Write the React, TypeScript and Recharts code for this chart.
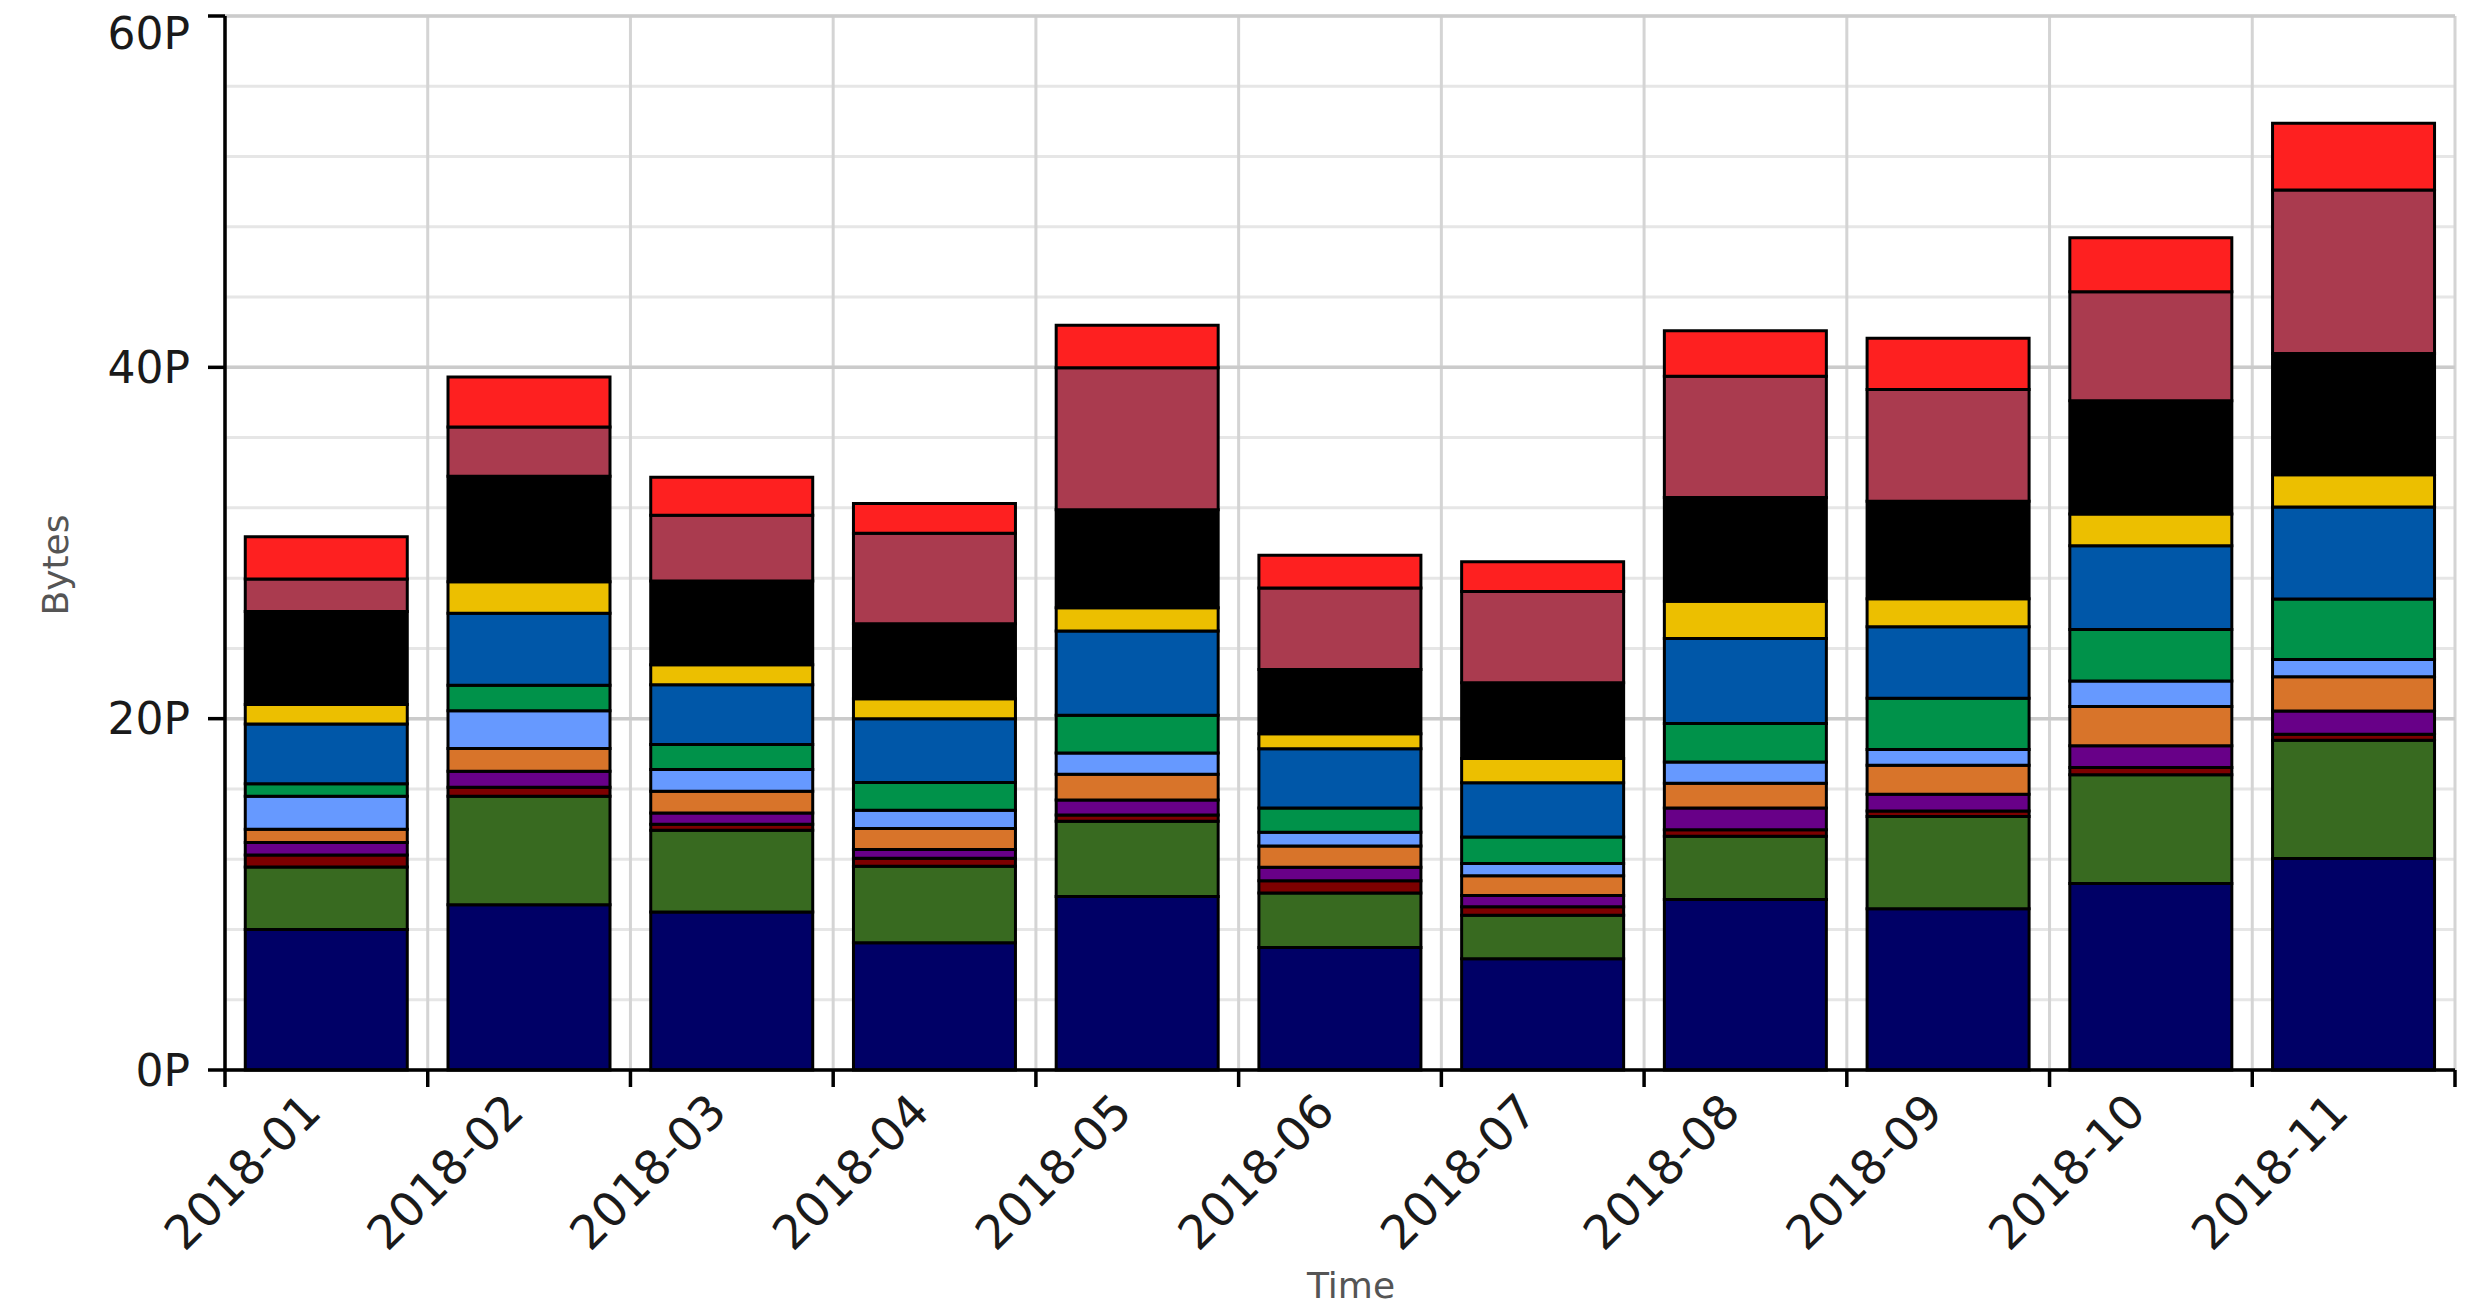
import { Bar, BarChart, CartesianGrid, Label, XAxis, YAxis } from "recharts";

// monthly storage usage, values in PB, stacked bottom -> top
const months = [
  "2018-01", "2018-02", "2018-03", "2018-04", "2018-05", "2018-06",
  "2018-07", "2018-08", "2018-09", "2018-10", "2018-11",
];

const navy = [8.0, 9.4, 9.0, 7.24, 9.88, 6.98, 6.33, 9.71, 9.18, 10.61, 12.04];
const darkGreen = [3.55, 6.18, 4.65, 4.36, 4.28, 3.1, 2.48, 3.6, 5.25, 6.2, 6.73];
const darkRed = [0.69, 0.52, 0.34, 0.45, 0.36, 0.7, 0.48, 0.37, 0.31, 0.41, 0.35];
const purple = [0.71, 0.9, 0.64, 0.5, 0.85, 0.76, 0.65, 1.24, 0.96, 1.24, 1.31];
const orange = [0.75, 1.3, 1.24, 1.2, 1.46, 1.21, 1.12, 1.4, 1.65, 2.23, 1.95];
const lightBlue = [1.88, 2.15, 1.23, 1.03, 1.21, 0.79, 0.7, 1.21, 0.89, 1.46, 0.99];
const green = [0.72, 1.45, 1.43, 1.58, 2.16, 1.38, 1.5, 2.2, 2.92, 2.92, 3.44];
const blue = [3.4, 4.1, 3.4, 3.64, 4.79, 3.37, 3.09, 4.84, 4.07, 4.77, 5.24];
const yellow = [1.1, 1.8, 1.14, 1.13, 1.33, 0.85, 1.38, 2.11, 1.59, 1.81, 1.84];
const black = [5.3, 6.0, 4.77, 4.27, 5.57, 3.66, 4.31, 5.91, 5.56, 6.45, 6.9];
const rose = [1.85, 2.8, 3.74, 5.15, 8.08, 4.64, 5.2, 6.9, 6.36, 6.2, 9.31];
const red = [2.4, 2.85, 2.16, 1.7, 2.42, 1.86, 1.69, 2.59, 2.92, 3.08, 3.8];

const yTicks = [0, 20, 40, 60];
const minorTicks = [0, 4, 8, 12, 16, 20, 24, 28, 32, 36, 40, 44, 48, 52, 56, 60];

const series = [
  { key: "navy", values: navy, color: "#000066" },
  { key: "darkGreen", values: darkGreen, color: "#386a20" },
  { key: "darkRed", values: darkRed, color: "#7d0000" },
  { key: "purple", values: purple, color: "#680088" },
  { key: "orange", values: orange, color: "#d8742a" },
  { key: "lightBlue", values: lightBlue, color: "#6699ff" },
  { key: "green", values: green, color: "#00924a" },
  { key: "blue", values: blue, color: "#0057a8" },
  { key: "yellow", values: yellow, color: "#ecbf00" },
  { key: "black", values: black, color: "#000000" },
  { key: "rose", values: rose, color: "#aa3b4f" },
  { key: "red", values: red, color: "#fe2020" },
];

const data = months.map((month, i) => {
  const row: Record<string, string | number> = { month };
  series.forEach((s) => {
    row[s.key] = s.values[i];
  });
  return row;
});

const FONT = "'DejaVu Sans', sans-serif";
const TICK_LEN = 17;

// label at the band centre, tick marks at the band edges (matplotlib style)
function MonthTick(props: any) {
  const { x, y, payload, index } = props;
  const half = payload.offset ?? 0;
  const last = index === months.length - 1;
  return (
    <g>
      <line x1={x - half} x2={x - half} y1={y} y2={y + TICK_LEN} stroke="#000" strokeWidth={3.5} />
      {last && (
        <line x1={x + half} x2={x + half} y1={y} y2={y + TICK_LEN} stroke="#000" strokeWidth={3.5} />
      )}
      <text
        transform={`translate(${x - 3},${y + 44}) rotate(-45)`}
        textAnchor="end"
        fontFamily={FONT}
        fontSize={47}
        fill="#1a1a1a"
      >
        {payload.value}
      </text>
    </g>
  );
}

function YTitle(props: any) {
  const vb = props.viewBox;
  const cx = vb.x + 60;
  const cy = vb.y + vb.height / 2 + 22;
  return (
    <text
      x={cx}
      y={cy}
      transform={`rotate(-90, ${cx}, ${cy})`}
      textAnchor="middle"
      fontFamily={FONT}
      fontSize={36}
      fill="#555555"
    >
      Bytes
    </text>
  );
}

function XTitle(props: any) {
  const vb = props.viewBox;
  return (
    <text
      x={vb.x + vb.width / 2 + 11}
      y={vb.y + vb.height - 8}
      textAnchor="middle"
      fontFamily={FONT}
      fontSize={36}
      fill="#555555"
    >
      Time
    </text>
  );
}

const bandEdges = ({ offset }: any) =>
  [...months.map((_, i) => i), months.length].map(
    (i) => offset.left + (i * offset.width) / months.length
  );

export default function App() {
  return (
    <div style={{ width: 2460, height: 1298, fontFamily: FONT }}>
      <BarChart
        width={2460}
        height={1298}
        data={data}
        margin={{ top: 8, right: 13, bottom: 0, left: 0 }}
        barCategoryGap="10%"
      >
        <CartesianGrid yAxisId="minor" vertical={false} stroke="#e6e6e6" strokeWidth={3} />
        <CartesianGrid
          horizontal={false}
          verticalCoordinatesGenerator={bandEdges}
          stroke="#d4d4d4"
          strokeWidth={3}
        />
        <CartesianGrid vertical={false} stroke="#cbcbcb" strokeWidth={3.5} />

        {series.map((s) => (
          <Bar
            key={s.key}
            dataKey={s.key}
            stackId="bytes"
            fill={s.color}
            stroke="#000"
            strokeWidth={3}
            isAnimationActive={false}
          />
        ))}

        <XAxis
          dataKey="month"
          interval={0}
          axisLine={{ stroke: "#000", strokeWidth: 3.5 }}
          tickLine={false}
          tickSize={0}
          tickMargin={0}
          height={236}
          tick={<MonthTick />}
        >
          <Label content={<XTitle />} />
        </XAxis>
        <YAxis yAxisId="minor" hide domain={[0, 60]} allowDataOverflow ticks={minorTicks} />
        <YAxis
          domain={[0, 60]}
          ticks={yTicks}
          tickFormatter={(v: number) => `${v}P`}
          width={217}
          tickSize={TICK_LEN}
          tickMargin={18}
          axisLine={{ stroke: "#000", strokeWidth: 3.5 }}
          tickLine={{ stroke: "#000", strokeWidth: 3.5 }}
          tick={{ fill: "#1a1a1a", fontSize: 44, fontFamily: FONT }}
        >
          <Label content={<YTitle />} />
        </YAxis>
      </BarChart>
    </div>
  );
}
